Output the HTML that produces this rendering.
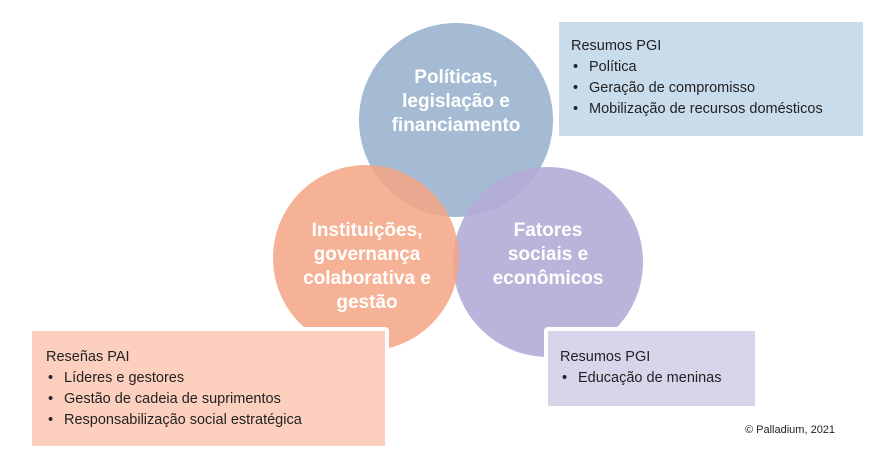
<!DOCTYPE html>
<html><head><meta charset="utf-8"><style>
body{margin:0;width:891px;height:459px;background:#fff;position:relative;overflow:hidden;font-family:"Liberation Sans",sans-serif;}
.box{position:absolute;box-sizing:border-box;border:4px solid #fff;border-radius:4px;font-size:14.5px;color:#222;line-height:21px;padding:10px 12px}
.box div.b{padding-left:18px;position:relative}
.box div.b:before{content:"•";position:absolute;left:2px}
.lbl{position:absolute;color:#fff;font-weight:bold;font-size:19px;line-height:24px;text-align:center}
</style></head><body>
<svg width="891" height="459" style="position:absolute;left:0;top:0">
<circle cx="456" cy="120" r="97" fill="#a5bbd3"/>
<circle cx="548" cy="262" r="95" fill="#b2acd6" opacity="0.9"/>
<circle cx="366" cy="258" r="93" fill="#f4a484" opacity="0.85"/>
</svg>
<div class="lbl" style="left:366px;top:66px;width:180px">Políticas,<br>legislação e<br>financiamento</div>
<div class="lbl" style="left:282px;top:219px;width:170px">Instituições,<br>governança<br>colaborativa e<br>gestão</div>
<div class="lbl" style="left:463px;top:219px;width:170px">Fatores<br>sociais e<br>econômicos</div>
<div class="box" style="left:555px;top:18px;width:312px;height:122px;background:#c9dcec;padding:14px 12px">Resumos PGI<div class="b">Política</div><div class="b">Geração de compromisso</div><div class="b">Mobilização de recursos domésticos</div></div>
<div class="box" style="left:28px;top:327px;width:361px;height:123px;background:#fdcfbf;padding:16px 14px">Reseñas PAI<div class="b">Líderes e gestores</div><div class="b">Gestão de cadeia de suprimentos</div><div class="b">Responsabilização social estratégica</div></div>
<div class="box" style="left:544px;top:327px;width:215px;height:83px;background:#d8d5eb;padding:16px 12px">Resumos PGI<div class="b">Educação de meninas</div></div>
<div style="position:absolute;left:745px;top:424px;font-size:11px;color:#222">© Palladium, 2021</div>
</body></html>
